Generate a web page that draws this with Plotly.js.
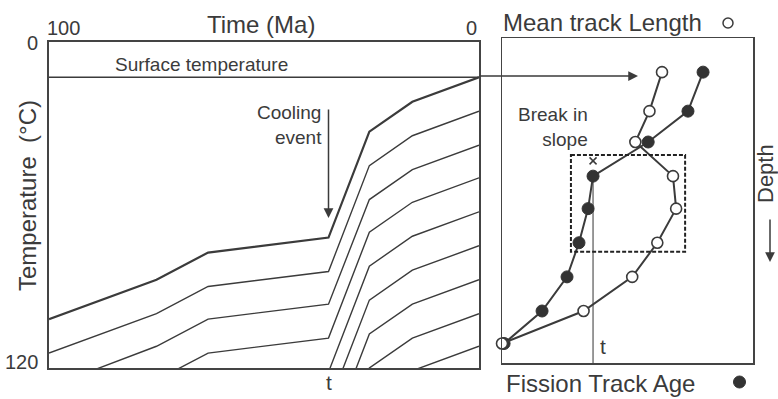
<!DOCTYPE html>
<html>
<head>
<meta charset="utf-8">
<script src="https://cdn.plot.ly/plotly-3.0.1.min.js"></script>
<style>
  html, body { margin: 0; padding: 0; background: #fff; }
  #chart { width: 778px; height: 399px; }
</style>
</head>
<body>
<div id="chart"></div>
<script>
// ---- Thermal history: time (Ma) vs temperature (°C) of rocks at successive depths
const timeMa = [100, 75, 63, 35, 25.5, 15.5, 0];
const path1 = [102, 87.5, 77.5, 72, 33, 22, 13];
const path2 = [114.5, 100, 90, 84.5, 45.5, 34.5, 25.5];
const path3 = [127, 112, 102, 96.5, 58, 47, 38];
const path4 = [139, 124.5, 114.5, 109, 70, 59, 50];
const path5 = [151.5, 137, 127, 121.5, 82.5, 71.5, 62.5];
const path6 = [164, 149.5, 139.5, 134, 95, 84, 75];
const path7 = [176.5, 162, 152, 146.5, 107.5, 96.5, 87.5];
const path8 = [189, 174.5, 164.5, 159, 120, 109, 100];
const path9 = [201, 186.5, 176.5, 171, 132, 121, 112];
const surfaceTempC = 13;
const coolingEventMa = 35;

// ---- Depth profile: fission track age and mean track length per sample
const sampleDepth = [10.5, 22.5, 32, 42.5, 52.5, 63, 73.5, 84, 94];
const ftAgeMa = [77.3, 71.5, 56.2, 35, 33.1, 29.6, 25, 15.4, 0.8];
const meanTrackLenUm = [10.2, 9.4, 8.5, 10.9, 11.1, 9.9, 8.3, 5.2, 0];
const breakDepth = 37.8;

const INK = '#3b3b3b';
const FONT = 'Liberation Sans, Arial, Helvetica, sans-serif';
const W = 778, H = 399;
const px = x => x / W;
const py = y => 1 - y / H;

const paths = [path1, path2, path3, path4, path5, path6, path7, path8, path9];
const traces = paths.map((temps, i) => ({
  type: 'scatter', mode: 'lines', x: timeMa, y: temps,
  xaxis: 'x', yaxis: 'y',
  line: { color: INK, width: i === 0 ? 2.2 : 1.4 },
  hoverinfo: 'skip'
}));

// surface temperature across the time window
traces.push({
  type: 'scatter', mode: 'lines', x: [100, 0], y: [surfaceTempC, surfaceTempC],
  xaxis: 'x', yaxis: 'y', line: { color: INK, width: 1.5 }, hoverinfo: 'skip'
});

// age of the cooling event on the depth profile, from the sample that records it down to the base
const eventSample = ftAgeMa.indexOf(coolingEventMa);
traces.push({
  type: 'scatter', mode: 'lines', x: [coolingEventMa, coolingEventMa], y: [sampleDepth[eventSample], 100],
  xaxis: 'x2', yaxis: 'y2', line: { color: '#555', width: 1.2 }, hoverinfo: 'skip'
});

traces.push({
  type: 'scatter', mode: 'lines+markers', x: meanTrackLenUm, y: sampleDepth,
  xaxis: 'x3', yaxis: 'y2', cliponaxis: false,
  line: { color: INK, width: 2 },
  marker: { size: 11, color: '#fff', line: { color: INK, width: 1.6 } },
  hoverinfo: 'skip'
});

traces.push({
  type: 'scatter', mode: 'lines+markers', x: ftAgeMa, y: sampleDepth,
  xaxis: 'x2', yaxis: 'y2', cliponaxis: false,
  line: { color: INK, width: 2 },
  marker: { size: 12, color: '#333', line: { color: '#333', width: 1 } },
  hoverinfo: 'skip'
});

// break in slope of the age profile
traces.push({
  type: 'scatter', mode: 'markers', x: [coolingEventMa], y: [breakDepth],
  xaxis: 'x2', yaxis: 'y2',
  marker: { symbol: 'x-thin-open', size: 7, color: INK, line: { color: INK, width: 1.5 } },
  hoverinfo: 'skip'
});

const frame = (w) => ({
  showline: true, mirror: true, linecolor: '#444', linewidth: w,
  showgrid: false, zeroline: false, ticks: '', showticklabels: false, fixedrange: true
});

const txt = (text, x, y, size, xanchor, extra) => Object.assign({
  text, x: px(x), y: py(y), xref: 'paper', yref: 'paper',
  xanchor: xanchor || 'center', yanchor: 'middle', showarrow: false,
  font: { family: FONT, size, color: INK }
}, extra || {});

const layout = {
  width: W, height: H,
  margin: { l: 0, r: 0, t: 0, b: 0 },
  paper_bgcolor: '#fff', plot_bgcolor: 'rgba(0,0,0,0)',
  showlegend: false,
  font: { family: FONT, color: INK },
  xaxis: Object.assign(frame(2), { domain: [px(49), px(479)], range: [100, 0], anchor: 'y' }),
  yaxis: Object.assign(frame(2), { domain: [py(368), py(42)], range: [120, 0], anchor: 'x' }),
  xaxis2: Object.assign(frame(1.5), { domain: [px(502), px(753)], range: [0, 96.5], anchor: 'y2' }),
  yaxis2: Object.assign(frame(1.5), { domain: [py(363), py(38)], range: [100, 0], anchor: 'x2' }),
  xaxis3: { overlaying: 'x2', range: [0, 16], visible: false, anchor: 'y2', fixedrange: true },
  shapes: [
    { type: 'rect', xref: 'x2', yref: 'y2', x0: 26.5, x1: 70.4, y0: 36, y1: 65.8,
      line: { color: '#222', width: 2, dash: '4px,2px' } },
    { type: 'circle', xref: 'paper', yref: 'paper',
      x0: px(723), x1: px(733), y0: py(28), y1: py(18),
      line: { color: INK, width: 1.5 }, fillcolor: '#fff' },
    { type: 'circle', xref: 'paper', yref: 'paper',
      x0: px(733.5), x1: px(745.5), y0: py(388), y1: py(376),
      line: { color: '#333', width: 1 }, fillcolor: '#333' }
  ],
  annotations: [
    txt('Time (Ma)', 261, 25, 24),
    txt('100', 45, 28, 20, 'left'),
    txt('0', 479, 28, 20, 'right'),
    txt('0', 40, 43, 20, 'right'),
    txt('120', 40, 362, 20, 'right'),
    txt('Temperature\u00a0 (°C)', 27, 196, 24, 'center', { textangle: -90 }),
    txt('Surface temperature', 201, 64, 19),
    txt('Cooling<br>event', 324, 125, 19, 'right', { align: 'right' }),
    txt('t', 329, 382, 21),
    txt('Mean track Length', 501, 22, 24, 'left'),
    txt('Fission Track Age', 504, 383, 24, 'left'),
    txt('Break in<br>slope', 590, 127, 19, 'right', { align: 'right' }),
    txt('t', 603, 346, 21),
    txt('Depth', 765, 174, 22, 'center', { textangle: -90 }),
    // surface temperature carried over to the depth profile
    { text: '', xref: 'x2', yref: 'y2', x: 52.3, y: 11.7, ax: -160, ay: 0,
      showarrow: true, arrowhead: 2, arrowsize: 1.3, arrowwidth: 1.5, arrowcolor: INK, standoff: 0 },
    // cooling event marker
    { text: '', xref: 'x', yref: 'y', x: coolingEventMa, y: 64.8, ax: 0, ay: -110,
      showarrow: true, arrowhead: 2, arrowsize: 1.3, arrowwidth: 1.5, arrowcolor: INK, standoff: 0 },
    // depth direction
    { text: '', xref: 'paper', yref: 'paper', x: px(770), y: py(262), ax: 0, ay: -44,
      showarrow: true, arrowhead: 2, arrowsize: 1.3, arrowwidth: 1.5, arrowcolor: INK, standoff: 0 }
  ]
};

Plotly.newPlot('chart', traces, layout, { staticPlot: true, displayModeBar: false });
</script>
</body>
</html>
